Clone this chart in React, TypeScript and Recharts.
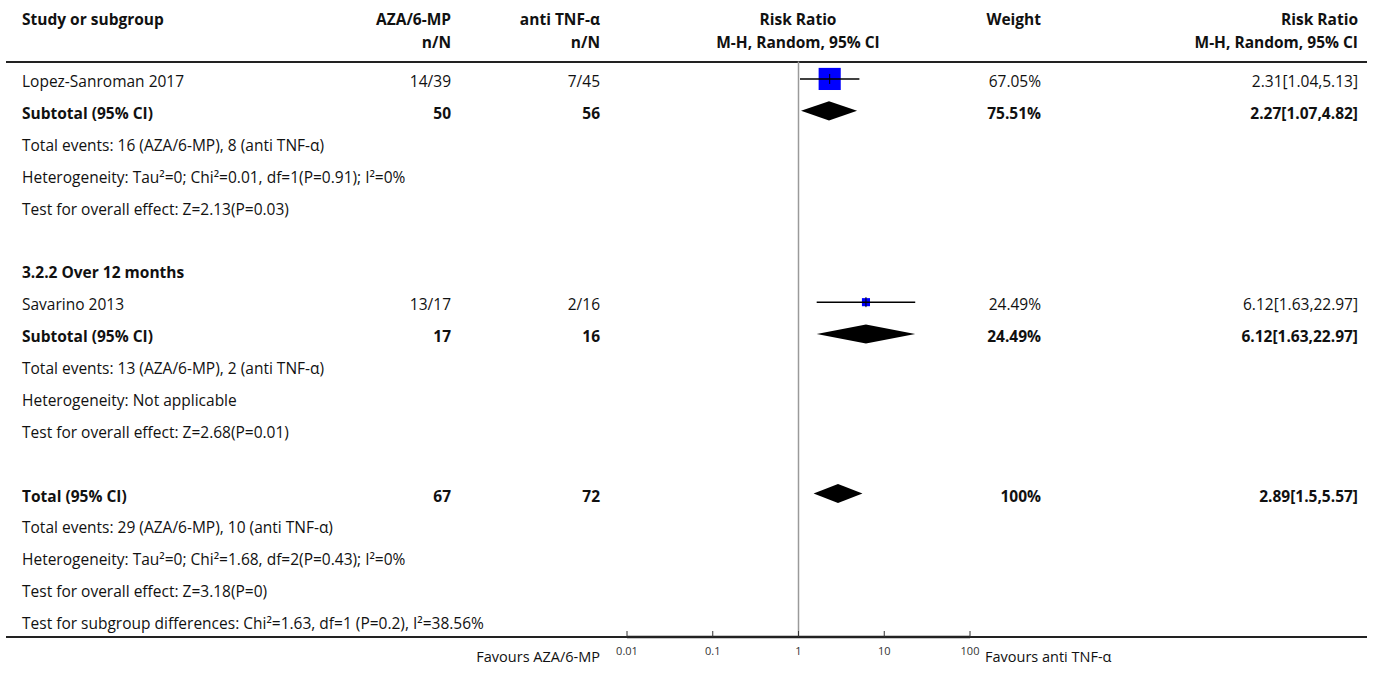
import { ScatterChart, Scatter, XAxis, YAxis, ReferenceLine } from 'recharts';

// rows of the forest plot, top to bottom
const rowLabels = [
  'Lopez-Sanroman 2017',
  'Subtotal (95% CI)',
  'Total events: 16 (AZA/6-MP), 8 (anti TNF-α)',
  'Heterogeneity: Tau²=0; Chi²=0.01, df=1(P=0.91); I²=0%',
  'Test for overall effect: Z=2.13(P=0.03)',
  '',
  '3.2.2 Over 12 months',
  'Savarino 2013',
  'Subtotal (95% CI)',
  'Total events: 13 (AZA/6-MP), 2 (anti TNF-α)',
  'Heterogeneity: Not applicable',
  'Test for overall effect: Z=2.68(P=0.01)',
  '',
  'Total (95% CI)',
  'Total events: 29 (AZA/6-MP), 10 (anti TNF-α)',
  'Heterogeneity: Tau²=0; Chi²=1.68, df=2(P=0.43); I²=0%',
  'Test for overall effect: Z=3.18(P=0)',
  'Test for subgroup differences: Chi²=1.63, df=1 (P=0.2), I²=38.56%',
];
const boldRows = [1, 6, 8, 13];
const azaText = ['14/39', '50', '', '', '', '', '', '13/17', '17', '', '', '', '', '67', '', '', '', ''];
const antiText = ['7/45', '56', '', '', '', '', '', '2/16', '16', '', '', '', '', '72', '', '', '', ''];
const weightText = ['67.05%', '75.51%', '', '', '', '', '', '24.49%', '24.49%', '', '', '', '', '100%', '', '', '', ''];
const rrText = ['2.31[1.04,5.13]', '2.27[1.07,4.82]', '', '', '', '', '', '6.12[1.63,22.97]', '6.12[1.63,22.97]', '', '', '', '', '2.89[1.5,5.57]', '', '', '', ''];

// individual studies
const studyRows = [0, 7];
const studyRR = [2.31, 6.12];
const studyLow = [1.04, 1.63];
const studyHigh = [5.13, 22.97];
const studyWeight = [67.05, 24.49];

// pooled estimates (diamonds)
const pooledRows = [1, 8, 13];
const pooledRR = [2.27, 6.12, 2.89];
const pooledLow = [1.07, 1.63, 1.5];
const pooledHigh = [4.82, 22.97, 5.57];

const xTicks = [0.01, 0.1, 1, 10, 100];

const FONT = '"Open Sans", sans-serif';
const INK = '#111';
const W = 1373;
const H = 675;

const rowIdx = rowLabels.map((_, i) => i);
const squares = studyRows.map((r, i) => ({ x: studyRR[i], y: r, w: studyWeight[i] }));
const ciLines = studyRows.map((r, i) => [
  { x: studyLow[i], y: r },
  { x: studyHigh[i], y: r },
]);
const diamonds = pooledRows.map((r, i) => [
  { x: pooledLow[i], y: r },
  { x: pooledRR[i], y: r - 0.3 },
  { x: pooledHigh[i], y: r },
  { x: pooledRR[i], y: r + 0.3 },
]);

function RowTick({ y, payload }: any) {
  const r = payload.value as number;
  const bold = boldRows.includes(r);
  const common = {
    y: y + 2,
    dominantBaseline: 'central' as const,
    fontFamily: FONT,
    fontSize: 15.5,
    fill: INK,
    fontWeight: bold ? 700 : 400,
  };
  return (
    <g>
      <text x={22} textAnchor="start" {...common}>{rowLabels[r]}</text>
      <text x={451} textAnchor="end" {...common}>{azaText[r]}</text>
      <text x={600} textAnchor="end" {...common}>{antiText[r]}</text>
      <text x={1041} textAnchor="end" {...common}>{weightText[r]}</text>
      <text x={1358} textAnchor="end" {...common}>{rrText[r]}</text>
    </g>
  );
}

function AxisTick({ x, y, payload }: any) {
  return (
    <g>
      <line x1={x} x2={x} y1={y} y2={y - 6} stroke="#333" strokeWidth={1} />
      <text x={x} y={y + 18} textAnchor="middle" fontFamily={FONT} fontSize={11} fill="#333">
        {String(payload.value)}
      </text>
    </g>
  );
}

function Square({ cx, cy, payload }: any) {
  const s = payload.w * 0.33;
  return (
    <g>
      <rect x={cx - s / 2} y={cy - s / 2} width={s} height={s} fill="#0000ff" />
      <line x1={cx} x2={cx} y1={cy - 5} y2={cy + 5} stroke="#000" strokeWidth={1} />
    </g>
  );
}

function DiamondLine({ points }: any) {
  const d = points.map((p: any, i: number) => `${i ? 'L' : 'M'}${p.x},${p.y}`).join('') + 'Z';
  return <path d={d} fill="#000" stroke="none" />;
}

const noDot = () => <g />;

function HeaderCell({ text, top, left, right, center, bold = true }: any) {
  const style: React.CSSProperties = {
    position: 'absolute',
    top: top - 11,
    height: 22,
    lineHeight: '22px',
    fontFamily: FONT,
    fontSize: 15.5,
    fontWeight: bold ? 700 : 400,
    color: INK,
    whiteSpace: 'nowrap',
  };
  if (left !== undefined) style.left = left;
  if (right !== undefined) {
    style.right = W - right;
    style.textAlign = 'right';
  }
  if (center !== undefined) {
    style.left = center;
    style.transform = 'translateX(-50%)';
  }
  return <div style={style}>{text}</div>;
}

export default function App() {
  return (
    <div style={{ position: 'relative', width: W, height: H, background: '#fff', overflow: 'hidden' }}>
      <style>{'body{margin:0}'}</style>

      <HeaderCell text="Study or subgroup" top={19} left={22} />
      <HeaderCell text="AZA/6-MP" top={19} right={451} />
      <HeaderCell text="n/N" top={42} right={451} />
      <HeaderCell text="anti TNF-α" top={19} right={600} />
      <HeaderCell text="n/N" top={42} right={600} />
      <HeaderCell text="Risk Ratio" top={19} center={798} />
      <HeaderCell text="M-H, Random, 95% CI" top={42} center={798} />
      <HeaderCell text="Weight" top={19} right={1041} />
      <HeaderCell text="Risk Ratio" top={19} right={1358} />
      <HeaderCell text="M-H, Random, 95% CI" top={42} right={1358} />

      <div style={{ position: 'absolute', left: 6, width: 1361, top: 61, height: 2, background: '#222' }} />
      <div style={{ position: 'absolute', left: 6, width: 1361, top: 636, height: 2, background: '#222' }} />

      <div style={{ position: 'absolute', left: 0, top: 0 }}>
        <ScatterChart width={W} height={H} margin={{ top: 63, right: 403, bottom: 0, left: 626 }}>
          <XAxis
            type="number"
            dataKey="x"
            scale="log"
            domain={[0.01, 100]}
            ticks={xTicks}
            allowDataOverflow
            height={38}
            tickSize={0}
            tickMargin={0}
            tickLine={false}
            axisLine={{ stroke: '#222', strokeWidth: 2.5 }}
            tick={<AxisTick />}
            interval={0}
          />
          <YAxis
            type="number"
            dataKey="y"
            domain={[-0.5, 17.5]}
            reversed
            ticks={rowIdx}
            interval={0}
            width={1}
            axisLine={false}
            tickLine={false}
            tick={<RowTick />}
          />
          <ReferenceLine
            segment={[{ x: 1, y: -0.55 }, { x: 1, y: 17.5 }]}
            ifOverflow="visible"
            stroke="#9a9a9a"
            strokeWidth={1.5}
          />
          <Scatter data={squares} shape={<Square />} isAnimationActive={false} />
          {ciLines.map((pts, i) => (
            <Scatter
              key={`ci-${i}`}
              data={pts}
              shape={noDot}
              line={{ stroke: '#000', strokeWidth: 1.5 }}
              lineType="joint"
              isAnimationActive={false}
            />
          ))}
          {diamonds.map((pts, i) => (
            <Scatter
              key={`dm-${i}`}
              data={pts}
              shape={noDot}
              line={(p: any) => <DiamondLine {...p} />}
              lineType="joint"
              isAnimationActive={false}
            />
          ))}
        </ScatterChart>
      </div>

      <div
        style={{
          position: 'absolute',
          right: W - 600,
          top: 646,
          lineHeight: '22px',
          fontFamily: FONT,
          fontSize: 14.5,
          color: INK,
          whiteSpace: 'nowrap',
        }}
      >
        Favours AZA/6-MP
      </div>
      <div
        style={{
          position: 'absolute',
          left: 985,
          top: 646,
          lineHeight: '22px',
          fontFamily: FONT,
          fontSize: 14.5,
          color: INK,
          whiteSpace: 'nowrap',
        }}
      >
        Favours anti TNF-α
      </div>
    </div>
  );
}
